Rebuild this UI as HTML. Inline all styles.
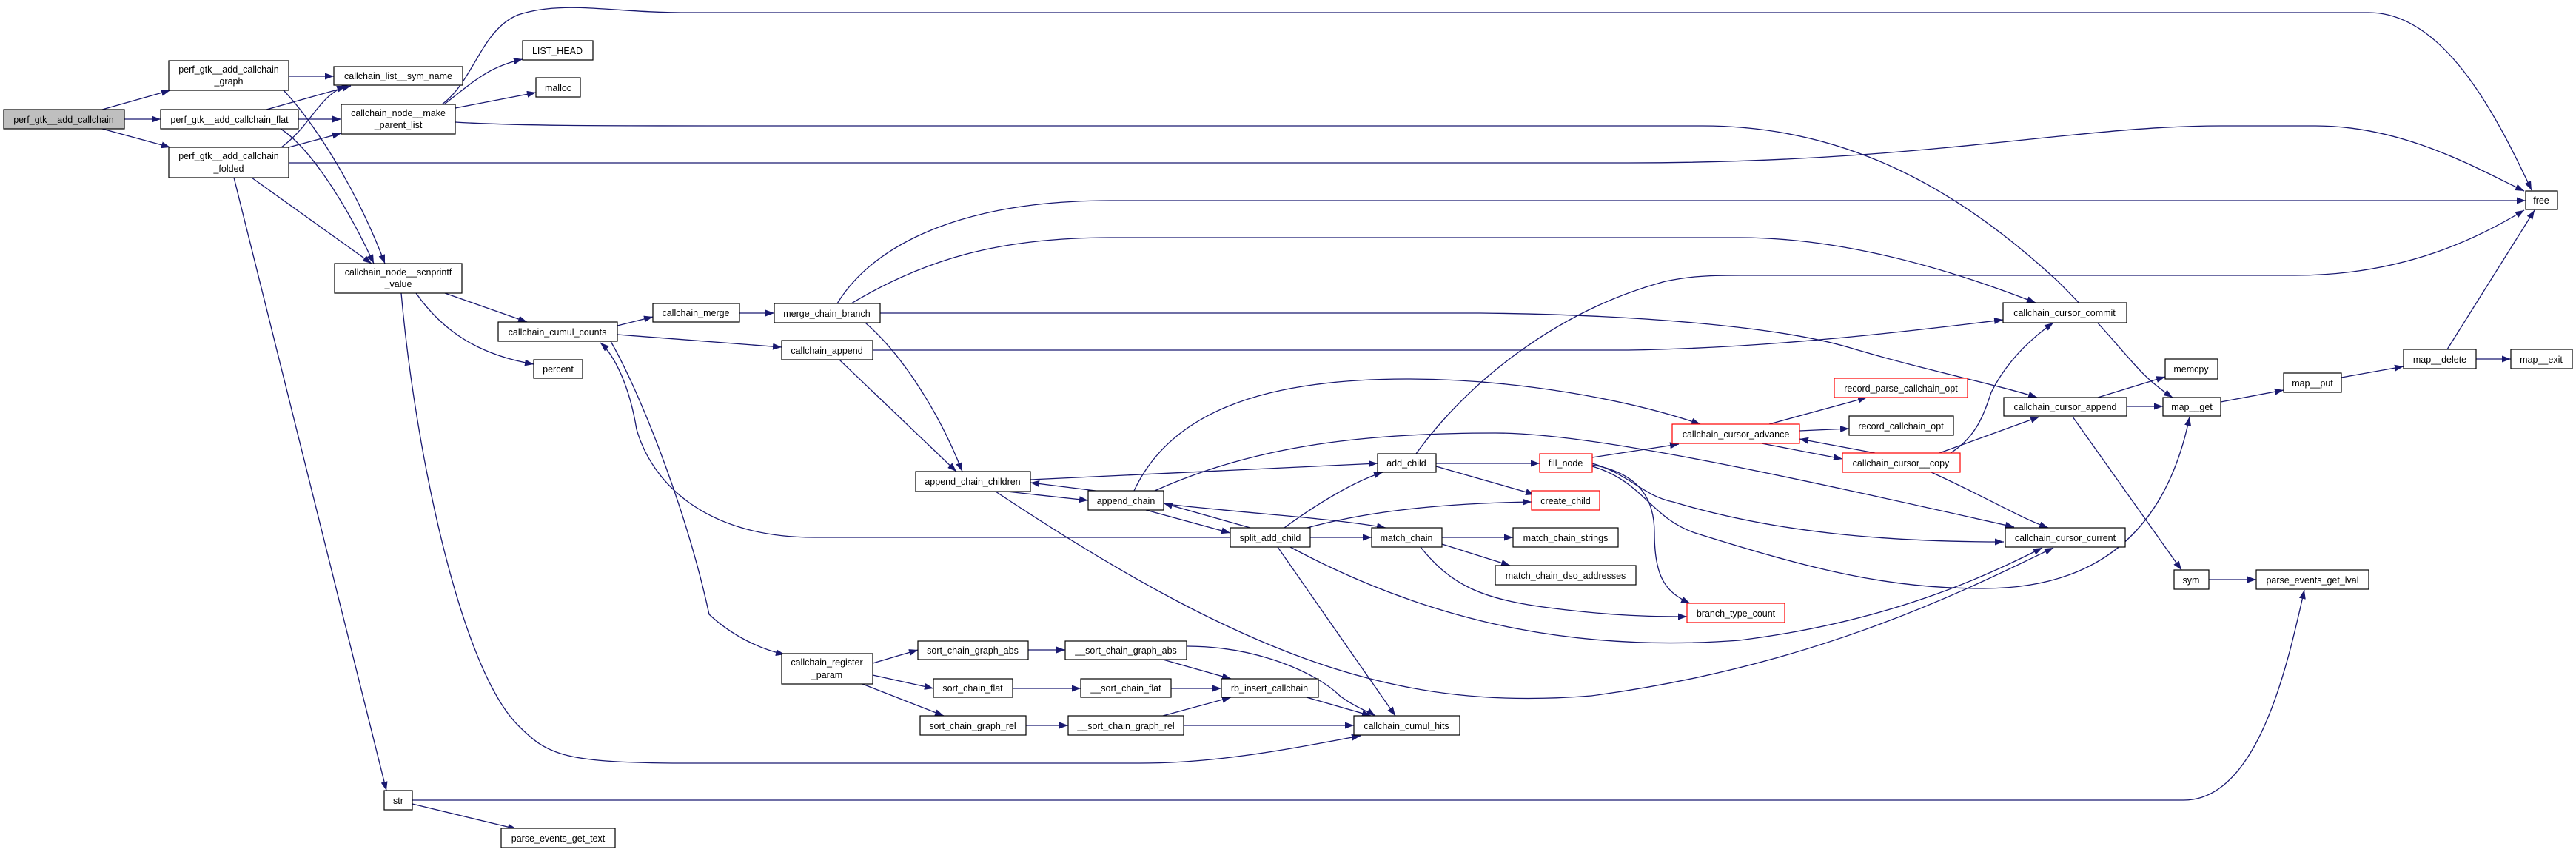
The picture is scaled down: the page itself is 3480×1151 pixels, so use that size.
<!DOCTYPE html>
<html><head><meta charset="utf-8"><style>
html,body{margin:0;padding:0;background:#fff;}
svg{display:block;}
text{font-family:"Liberation Sans",sans-serif;font-size:12.5px;fill:#000;}
.n{fill:#fff;stroke:#000;stroke-width:1.2;}
.r{fill:#fff;stroke:#ff0000;stroke-width:1.2;}
.g{fill:#bfbfbf;stroke:#000;stroke-width:1.2;}
.e{fill:none;stroke:#191970;stroke-width:1.3;marker-end:url(#a);}
</style></head><body>
<svg width="3480" height="1151" viewBox="0 0 3480 1151" xmlns="http://www.w3.org/2000/svg">
<defs><marker id="a" markerUnits="userSpaceOnUse" markerWidth="12" markerHeight="9" refX="12" refY="4.5" orient="auto"><path d="M0,0 L12,4.5 L0,9 z" fill="#191970"/></marker></defs>
<g>
<path class="e" d="M138,148 L230,122"/>
<path class="e" d="M168,161 L217,161"/>
<path class="e" d="M138,174 L230,199"/>
<path class="e" d="M390,103 L451,103"/>
<path class="e" d="M383,122 C420,160 480,250 520,356"/>
<path class="e" d="M360,148 L474,116"/>
<path class="e" d="M403,161 L461,161"/>
<path class="e" d="M379,174 C420,200 470,280 505,356"/>
<path class="e" d="M380,199 C420,170 430,130 467,116"/>
<path class="e" d="M390,199 L461,180"/>
<path class="e" d="M340,240 L502,356"/>
<path class="e" d="M390,220 L2200,220 C2600,220 2800,170 3000,170 L3128,170 C3250,170 3350,230 3410,258"/>
<path class="e" d="M615,165 C700,170 800,170 1000,170 L2300,170 C2500,170 2650,260 2780,380 C2880,480 2880,500 2935,537"/>
<path class="e" d="M597,141 C640,110 650,40 700,20 C760,0 830,17 920,17 L3200,17 C3300,17 3370,150 3420,257"/>
<path class="e" d="M600,141 C640,110 660,90 706,80"/>
<path class="e" d="M615,146 L724,125"/>
<path class="e" d="M316,240 L522,1068"/>
<path class="e" d="M601,396 L712,435"/>
<path class="e" d="M562,396 C600,450 650,480 721,492"/>
<path class="e" d="M542,396 C560,600 620,900 700,980 C740,1020 760,1031 930,1031 L1540,1031 C1650,1031 1750,1010 1838,994"/>
<path class="e" d="M825,461 C870,540 930,700 958,830 C990,860 1030,878 1060,884"/>
<path class="e" d="M1662,726 L1100,726 C950,726 880,650 860,580 C850,520 830,480 811,463"/>
<path class="e" d="M834,440 L882,428"/>
<path class="e" d="M834,452 L1056,469"/>
<path class="e" d="M999,423 L1046,423"/>
<path class="e" d="M1131,410 C1180,330 1300,271 1500,271 L3412,271"/>
<path class="e" d="M1150,410 C1250,350 1350,321 1500,321 L2350,321 C2500,321 2650,370 2750,409"/>
<path class="e" d="M1189,423 L2000,423 C2200,425 2400,440 2500,470 C2600,500 2700,520 2752,537"/>
<path class="e" d="M1169,436 C1220,480 1270,560 1300,637"/>
<path class="e" d="M1179,473 L2200,473 C2400,470 2600,445 2706,432"/>
<path class="e" d="M1134,486 L1292,637"/>
<path class="e" d="M1392,648 L1861,626"/>
<path class="e" d="M1360,664 L1470,676"/>
<path class="e" d="M1480,663 L1392,652"/>
<path class="e" d="M1345,664 C1700,900 1900,960 2150,940 C2450,900 2650,800 2774,740"/>
<path class="e" d="M1743,739 C1950,850 2150,880 2350,865 C2550,840 2680,780 2759,740"/>
<path class="e" d="M1560,663 C1700,600 1850,585 2020,585 C2150,585 2400,640 2721,712"/>
<path class="e" d="M2151,626 C2200,640 2220,670 2260,678 C2400,720 2550,732 2707,732"/>
<path class="e" d="M2151,630 C2220,650 2230,700 2290,720 C2450,770 2550,795 2680,795 C2850,795 2930,700 2958,563"/>
<path class="e" d="M2151,628 C2220,640 2235,680 2235,720 C2235,780 2250,800 2283,815"/>
<path class="e" d="M2151,618 L2268,600"/>
<path class="e" d="M1919,739 C1960,790 2000,810 2100,822 C2180,832 2230,833 2279,833"/>
<path class="e" d="M1689,713 L1572,680"/>
<path class="e" d="M1548,689 L1662,720"/>
<path class="e" d="M1575,681 C1700,695 1800,700 1872,713"/>
<path class="e" d="M1770,726 L1853,726"/>
<path class="e" d="M1735,713 C1780,680 1830,650 1868,638"/>
<path class="e" d="M1766,713 C1850,690 1950,680 2069,678"/>
<path class="e" d="M1726,739 L1885,967"/>
<path class="e" d="M1532,663 C1580,560 1700,512 1900,512 C2050,512 2200,540 2297,573"/>
<path class="e" d="M1940,626 L2080,626"/>
<path class="e" d="M1940,630 L2073,668"/>
<path class="e" d="M1913,613 C1980,520 2100,420 2250,380 C2280,374 2300,372 2350,372 L3100,372 C3250,372 3350,320 3410,284"/>
<path class="e" d="M1948,726 L2044,726"/>
<path class="e" d="M1948,735 L2040,764"/>
<path class="e" d="M2390,573 L2522,537"/>
<path class="e" d="M2431,582 L2498,579"/>
<path class="e" d="M2380,599 L2489,620"/>
<path class="e" d="M2533,612 L2431,593"/>
<path class="e" d="M2635,612 C2670,590 2680,560 2690,530 C2710,490 2740,460 2774,436"/>
<path class="e" d="M2620,612 L2755,563"/>
<path class="e" d="M2609,638 C2680,670 2730,700 2767,713"/>
<path class="e" d="M2834,537 L2925,509"/>
<path class="e" d="M2873,549 L2922,549"/>
<path class="e" d="M2800,563 L2947,770"/>
<path class="e" d="M3000,543 L3085,527"/>
<path class="e" d="M3163,510 L3247,495"/>
<path class="e" d="M3306,472 L3424,284"/>
<path class="e" d="M3345,485 L3392,485"/>
<path class="e" d="M2984,783 L3048,783"/>
<path class="e" d="M557,1081 L2950,1081 C3050,1081 3090,900 3113,797"/>
<path class="e" d="M557,1086 L698,1120"/>
<path class="e" d="M1179,896 L1240,878"/>
<path class="e" d="M1179,912 L1261,930"/>
<path class="e" d="M1165,924 L1275,967"/>
<path class="e" d="M1389,878 L1439,878"/>
<path class="e" d="M1368,930 L1460,930"/>
<path class="e" d="M1386,980 L1443,980"/>
<path class="e" d="M1571,891 L1663,917"/>
<path class="e" d="M1582,930 L1650,930"/>
<path class="e" d="M1571,967 L1663,942"/>
<path class="e" d="M1765,942 L1852,967"/>
<path class="e" d="M1603,873 C1700,873 1780,910 1810,940 C1830,955 1850,962 1858,967"/>
<path class="e" d="M1599,980 L1829,980"/>
</g>
<g text-anchor="middle">
<rect class="g" x="5" y="148" width="163" height="26"/><text x="86" y="166">perf_gtk__add_callchain</text>
<rect class="n" x="228" y="82" width="162" height="40"/><text x="309" y="98">perf_gtk__add_callchain</text><text x="309" y="114">_graph</text>
<rect class="n" x="217" y="148" width="186" height="26"/><text x="310" y="166">perf_gtk__add_callchain_flat</text>
<rect class="n" x="228" y="199" width="162" height="41"/><text x="309" y="215">perf_gtk__add_callchain</text><text x="309" y="232">_folded</text>
<rect class="n" x="451" y="90" width="174" height="25"/><text x="538" y="107">callchain_list__sym_name</text>
<rect class="n" x="461" y="141" width="154" height="40"/><text x="538" y="157">callchain_node__make</text><text x="538" y="173">_parent_list</text>
<rect class="n" x="706" y="55" width="95" height="26"/><text x="753" y="73">LIST_HEAD</text>
<rect class="n" x="724" y="105" width="60" height="26"/><text x="754" y="123">malloc</text>
<rect class="n" x="452" y="356" width="172" height="40"/><text x="538" y="372">callchain_node__scnprintf</text><text x="538" y="388">_value</text>
<rect class="n" x="673" y="435" width="161" height="26"/><text x="753" y="453">callchain_cumul_counts</text>
<rect class="n" x="721" y="486" width="66" height="25"/><text x="754" y="503">percent</text>
<rect class="n" x="882" y="410" width="117" height="25"/><text x="940" y="427">callchain_merge</text>
<rect class="n" x="1046" y="410" width="143" height="26"/><text x="1117" y="428">merge_chain_branch</text>
<rect class="n" x="1056" y="460" width="123" height="26"/><text x="1117" y="478">callchain_append</text>
<rect class="n" x="1237" y="637" width="155" height="27"/><text x="1314" y="655">append_chain_children</text>
<rect class="n" x="1470" y="663" width="102" height="26"/><text x="1521" y="681">append_chain</text>
<rect class="n" x="1861" y="613" width="79" height="25"/><text x="1900" y="630">add_child</text>
<rect class="r" x="2080" y="613" width="71" height="25"/><text x="2115" y="630">fill_node</text>
<rect class="r" x="2069" y="663" width="92" height="26"/><text x="2115" y="681">create_child</text>
<rect class="n" x="1662" y="713" width="108" height="26"/><text x="1716" y="731">split_add_child</text>
<rect class="n" x="1853" y="713" width="95" height="26"/><text x="1900" y="731">match_chain</text>
<rect class="n" x="2044" y="713" width="142" height="26"/><text x="2115" y="731">match_chain_strings</text>
<rect class="n" x="2020" y="764" width="190" height="26"/><text x="2115" y="782">match_chain_dso_addresses</text>
<rect class="n" x="1056" y="883" width="123" height="41"/><text x="1117" y="899">callchain_register</text><text x="1117" y="916">_param</text>
<rect class="n" x="1240" y="866" width="149" height="25"/><text x="1314" y="883">sort_chain_graph_abs</text>
<rect class="n" x="1439" y="866" width="164" height="25"/><text x="1521" y="883">__sort_chain_graph_abs</text>
<rect class="n" x="1261" y="917" width="107" height="25"/><text x="1314" y="934">sort_chain_flat</text>
<rect class="n" x="1460" y="917" width="122" height="25"/><text x="1521" y="934">__sort_chain_flat</text>
<rect class="n" x="1650" y="917" width="131" height="25"/><text x="1715" y="934">rb_insert_callchain</text>
<rect class="n" x="1243" y="967" width="143" height="26"/><text x="1314" y="985">sort_chain_graph_rel</text>
<rect class="n" x="1443" y="967" width="156" height="26"/><text x="1521" y="985">__sort_chain_graph_rel</text>
<rect class="n" x="1829" y="967" width="143" height="26"/><text x="1900" y="985">callchain_cumul_hits</text>
<rect class="n" x="519" y="1068" width="38" height="26"/><text x="538" y="1086">str</text>
<rect class="n" x="677" y="1119" width="154" height="26"/><text x="754" y="1137">parse_events_get_text</text>
<rect class="n" x="3412" y="258" width="43" height="25"/><text x="3433" y="275">free</text>
<rect class="n" x="2706" y="409" width="167" height="27"/><text x="2789" y="427">callchain_cursor_commit</text>
<rect class="r" x="2478" y="511" width="180" height="26"/><text x="2568" y="529">record_parse_callchain_opt</text>
<rect class="n" x="2498" y="562" width="141" height="26"/><text x="2568" y="580">record_callchain_opt</text>
<rect class="r" x="2259" y="573" width="172" height="26"/><text x="2345" y="591">callchain_cursor_advance</text>
<rect class="r" x="2489" y="612" width="159" height="26"/><text x="2568" y="630">callchain_cursor__copy</text>
<rect class="n" x="2707" y="537" width="166" height="25"/><text x="2790" y="554">callchain_cursor_append</text>
<rect class="n" x="2925" y="485" width="71" height="27"/><text x="2960" y="503">memcpy</text>
<rect class="n" x="2922" y="537" width="78" height="25"/><text x="2961" y="554">map__get</text>
<rect class="n" x="3085" y="504" width="78" height="26"/><text x="3124" y="522">map__put</text>
<rect class="n" x="3247" y="472" width="98" height="26"/><text x="3296" y="490">map__delete</text>
<rect class="n" x="3392" y="472" width="83" height="26"/><text x="3433" y="490">map__exit</text>
<rect class="n" x="2709" y="713" width="162" height="26"/><text x="2790" y="731">callchain_cursor_current</text>
<rect class="n" x="2937" y="770" width="47" height="26"/><text x="2960" y="788">sym</text>
<rect class="n" x="3048" y="770" width="152" height="26"/><text x="3124" y="788">parse_events_get_lval</text>
<rect class="r" x="2279" y="815" width="132" height="26"/><text x="2345" y="833">branch_type_count</text>
</g>
</svg>
</body></html>
